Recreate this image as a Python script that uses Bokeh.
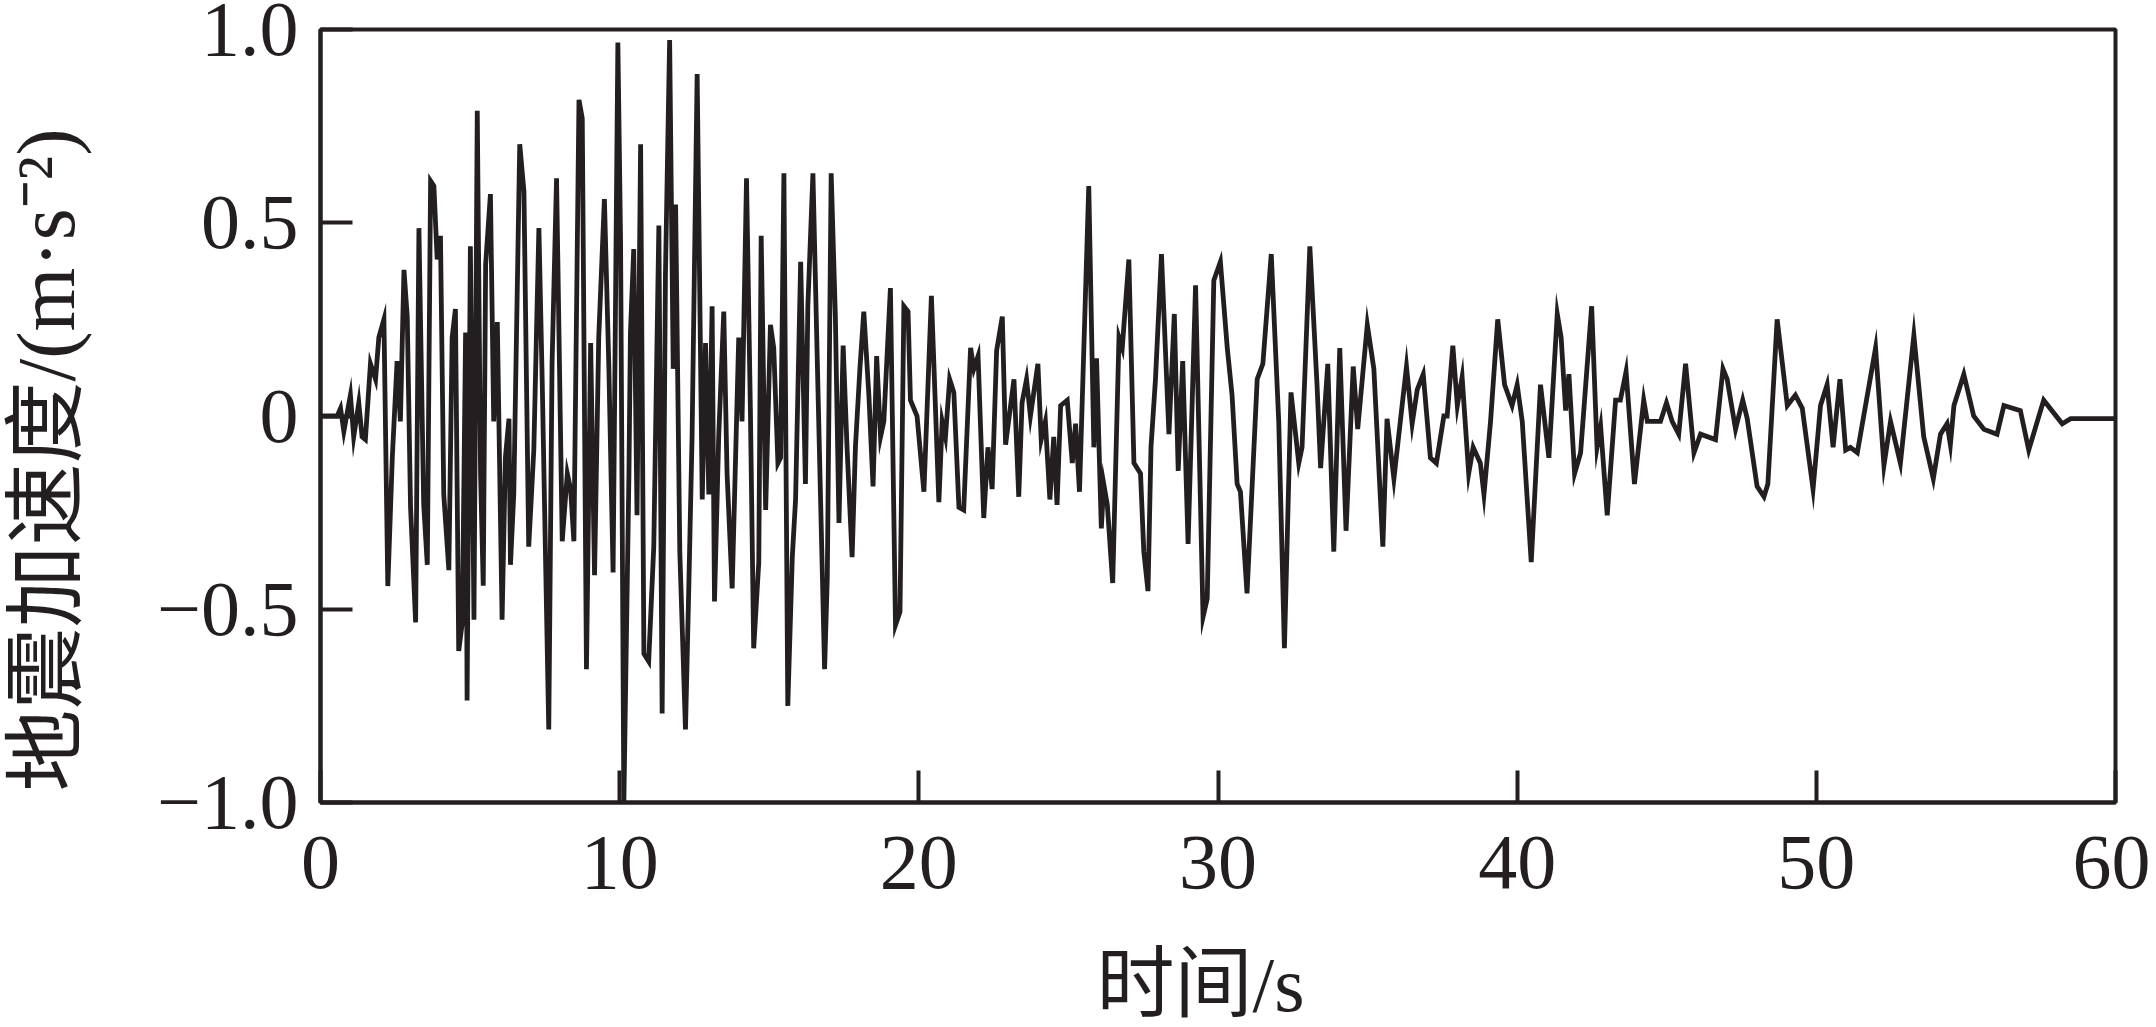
from bokeh.plotting import figure
from bokeh.models import Range1d, FixedTicker, Title
from bokeh.embed import file_html
from bokeh.resources import INLINE

# ---- data ----
time_s = [
    0.00, 0.56, 0.67, 0.78, 1.00, 1.11, 1.28, 1.39, 1.50, 1.67, 1.84, 1.95, 2.12, 2.25, 2.40, 2.56,
    2.67, 2.79, 2.90, 3.01, 3.18, 3.29, 3.45, 3.57, 3.68, 3.79, 3.90, 4.01, 4.12, 4.29, 4.40, 4.51,
    4.62, 4.74, 4.85, 4.90, 5.01, 5.13, 5.24, 5.35, 5.44, 5.52, 5.68, 5.79, 5.91, 6.07, 6.18, 6.30,
    6.35, 6.46, 6.66, 6.80, 6.96, 7.13, 7.30, 7.41, 7.63, 7.74, 7.89, 8.08, 8.25, 8.36, 8.47, 8.64,
    8.75, 8.89, 9.03, 9.16, 9.30, 9.49, 9.64, 9.78, 9.94, 10.03, 10.14, 10.31, 10.36, 10.47, 10.58,
    10.70, 10.81, 10.97, 11.14, 11.31, 11.42, 11.53, 11.67, 11.79, 11.87, 12.01, 12.20, 12.31, 12.42,
    12.59, 12.76, 12.87, 12.98, 13.09, 13.17, 13.31, 13.48, 13.59, 13.76, 13.98, 14.09, 14.24, 14.37,
    14.48, 14.65, 14.73, 14.88, 15.04, 15.15, 15.29, 15.38, 15.49, 15.62, 15.77, 15.88, 16.05, 16.21,
    16.29, 16.46, 16.60, 16.85, 16.94, 17.07, 17.21, 17.33, 17.47, 17.60, 17.77, 17.88, 18.03, 18.16,
    18.33, 18.47, 18.59, 18.72, 18.83, 19.05, 19.22, 19.37, 19.50, 19.64, 19.72, 19.94, 20.17, 20.42,
    20.67, 20.78, 20.89, 21.03, 21.17, 21.34, 21.50, 21.73, 21.84, 21.98, 22.17, 22.31, 22.45, 22.60,
    22.79, 22.90, 23.18, 23.34, 23.45, 23.60, 23.73, 23.98, 24.09, 24.23, 24.38, 24.51, 24.62, 24.74,
    24.96, 25.13, 25.24, 25.37, 25.68, 25.85, 25.94, 26.10, 26.18, 26.30, 26.48, 26.69, 26.80, 27.02,
    27.19, 27.41, 27.52, 27.66, 27.76, 27.91, 28.11, 28.36, 28.54, 28.67, 28.82, 29.00, 29.25, 29.50,
    29.64, 29.86, 30.08, 30.31, 30.47, 30.64, 30.75, 30.97, 31.31, 31.50, 31.78, 32.03, 32.22, 32.44,
    32.70, 32.81, 33.07, 33.31, 33.43, 33.67, 33.87, 34.07, 34.28, 34.52, 34.67, 34.99, 35.21, 35.51,
    35.65, 35.88, 36.30, 36.49, 36.66, 36.86, 37.10, 37.30, 37.55, 37.66, 37.85, 38.00, 38.16, 38.38,
    38.53, 38.77, 38.89, 39.11, 39.35, 39.58, 39.83, 40.00, 40.17, 40.47, 40.78, 41.06, 41.34, 41.47,
    41.62, 41.73, 41.92, 42.12, 42.49, 42.67, 42.79, 43.01, 43.29, 43.45, 43.64, 43.92, 44.23, 44.35,
    44.79, 44.99, 45.18, 45.40, 45.63, 45.91, 46.13, 46.63, 46.88, 47.02, 47.30, 47.54, 47.69, 48.02,
    48.25, 48.38, 48.69, 49.03, 49.30, 49.53, 49.89, 50.14, 50.36, 50.56, 50.79, 50.98, 51.14, 51.37,
    51.98, 52.26, 52.48, 52.81, 53.26, 53.59, 53.91, 54.15, 54.37, 54.48, 54.60, 54.93, 55.26, 55.60,
    56.04, 56.27, 56.82, 57.10, 57.60, 58.22, 58.50, 60.00,
]
accel = [
    0.000, 0.000, 0.020, -0.040, 0.054, -0.054, 0.034, -0.054, -0.061, 0.135, 0.095, 0.203, 0.250, -0.440, -0.108, 0.142,
    -0.014, 0.378, 0.257, -0.236, -0.534, 0.486, -0.230, -0.385, 0.608, 0.595, 0.405, 0.466, -0.203, -0.399, 0.203, 0.277,
    -0.608, -0.534, 0.216, -0.736, 0.439, -0.527, 0.790, -0.149, -0.439, 0.392, 0.574, -0.014, 0.243, -0.527, -0.108, -0.007,
    -0.385, -0.203, 0.703, 0.581, -0.338, -0.088, 0.486, 0.095, -0.811, 0.135, 0.615, -0.324, -0.149, -0.189, -0.324, 0.818,
    0.770, -0.655, 0.189, -0.412, 0.203, 0.561, 0.122, -0.405, 0.966, 0.453, -1.000, -0.149, 0.216, 0.432, -0.257,
    0.703, -0.615, -0.635, -0.338, 0.493, -0.770, 0.365, 0.973, 0.122, 0.547, -0.351, -0.811, -0.446, -0.054,
    0.885, -0.216, 0.189, -0.203, 0.284, -0.480, -0.054, 0.270, -0.149, -0.446, 0.203, -0.014, 0.615, 0.014,
    -0.601, -0.378, 0.466, -0.243, 0.236, 0.176, -0.122, -0.108, 0.628, -0.750, -0.365, -0.216, 0.399, -0.176,
    0.284, 0.628, 0.162, -0.655, -0.419, 0.628, 0.257, -0.277, 0.182, -0.081, -0.365, -0.081, 0.122, 0.270,
    0.054, -0.182, 0.155, -0.054, -0.014, 0.331, -0.541, -0.507, 0.284, 0.270, 0.041, 0.000, -0.196, 0.311,
    -0.223, -0.014, -0.054, 0.095, 0.061, -0.236, -0.243, 0.176, 0.122, 0.155, -0.264, -0.081, -0.189, 0.169,
    0.257, -0.074, 0.095, -0.209, 0.034, 0.095, 0.000, 0.135, -0.061, -0.014, -0.216, -0.054, -0.230, 0.027,
    0.041, -0.122, -0.020, -0.196, 0.595, -0.081, 0.149, -0.291, -0.176, -0.230, -0.432, 0.203, 0.176, 0.405,
    -0.122, -0.149, -0.351, -0.453, -0.081, 0.095, 0.419, -0.047, 0.264, -0.142, 0.142, -0.331, 0.338, -0.520,
    -0.473, 0.351, 0.399, 0.176, 0.054, -0.176, -0.196, -0.459, 0.095, 0.135, 0.419, -0.014, -0.601, 0.061,
    -0.122, -0.081, 0.439, 0.081, -0.135, 0.135, -0.351, 0.176, -0.297, 0.128, -0.034, 0.236, 0.122, -0.338,
    -0.007, -0.162, 0.128, -0.020, 0.068, 0.108, -0.108, -0.122, 0.000, 0.000, 0.182, 0.027, 0.101, -0.149,
    -0.081, -0.122, -0.203, -0.014, 0.250, 0.081, 0.027, 0.081, -0.014, -0.378, 0.081, -0.108, 0.264, 0.203,
    0.014, 0.108, -0.149, -0.095, 0.284, -0.081, -0.027, -0.257, 0.041, 0.041, 0.115, -0.176, 0.041, -0.014,
    -0.014, 0.034, -0.014, -0.047, 0.135, -0.095, -0.047, -0.061, 0.122, 0.095, -0.034, 0.041, -0.007, -0.182,
    -0.209, -0.176, 0.250, 0.027, 0.054, 0.020, -0.189, 0.027, 0.081, -0.081, 0.095, -0.088, -0.081, -0.095,
    0.176, -0.128, -0.014, -0.122, 0.209, -0.054, -0.162, -0.047, -0.020, -0.074, 0.027, 0.108, 0.000, -0.034,
    -0.047, 0.027, 0.014, -0.088, 0.041, -0.020, -0.007, -0.007,
]

x_ticks = [0, 10, 20, 30, 40, 50, 60]
y_ticks = [-1, -0.5, 0, 0.5, 1]
y_tick_labels = ["\u22121.0", "\u22120.5", "0", "0.5", "1.0"]
x_title = "时间/s"
y_title = "地震加速度/(m·s\u207b\u00b2)"

INK = "#231f20"
SERIF = "Liberation Serif"
MIXED = "Liberation Serif, Noto Sans CJK SC"

p = figure(
    width=2150, height=1027,
    x_range=Range1d(0, 60), y_range=Range1d(-1, 1),
    output_backend="svg", toolbar_location=None,
    min_border_left=320, min_border_right=35, min_border_top=29, min_border_bottom=223,
)
p.background_fill_color = "white"
p.border_fill_color = "white"
p.grid.visible = False
p.outline_line_color = INK
p.outline_line_width = 4

p.line(time_s, accel, line_color=INK, line_width=4.8, line_join="miter")

for ax in (p.xaxis[0], p.yaxis[0]):
    ax.axis_line_color = INK
    ax.axis_line_width = 4
    ax.major_tick_line_color = INK
    ax.major_tick_line_width = 4
    ax.major_tick_in = 32
    ax.major_tick_out = 0
    ax.minor_tick_line_color = None
    ax.major_label_text_font = SERIF
    ax.major_label_text_font_size = "78px"
    ax.major_label_text_color = INK
    # blank spacer between tick labels and the title panel
    ax.axis_label = " "
    ax.axis_label_text_font_size = "1px"

p.xaxis[0].ticker = FixedTicker(ticks=x_ticks)
p.xaxis[0].major_label_standoff = 34
p.xaxis[0].axis_label_standoff = 44
p.yaxis[0].ticker = FixedTicker(ticks=y_ticks)
p.yaxis[0].major_label_overrides = dict(zip(y_ticks, y_tick_labels))
p.yaxis[0].major_label_standoff = 22
p.yaxis[0].axis_label_standoff = 56

p.add_layout(Title(
    text=x_title, align="left", offset=776, standoff=0, vertical_align="bottom",
    text_font=MIXED, text_font_size="78px", text_color=INK, text_font_style="normal",
), "below")
p.add_layout(Title(
    text=y_title, align="left", offset=11, standoff=0, vertical_align="top",
    text_font=MIXED, text_font_size="82px", text_color=INK, text_font_style="normal",
), "left")

open("out.html", "w").write(file_html(p, INLINE))
